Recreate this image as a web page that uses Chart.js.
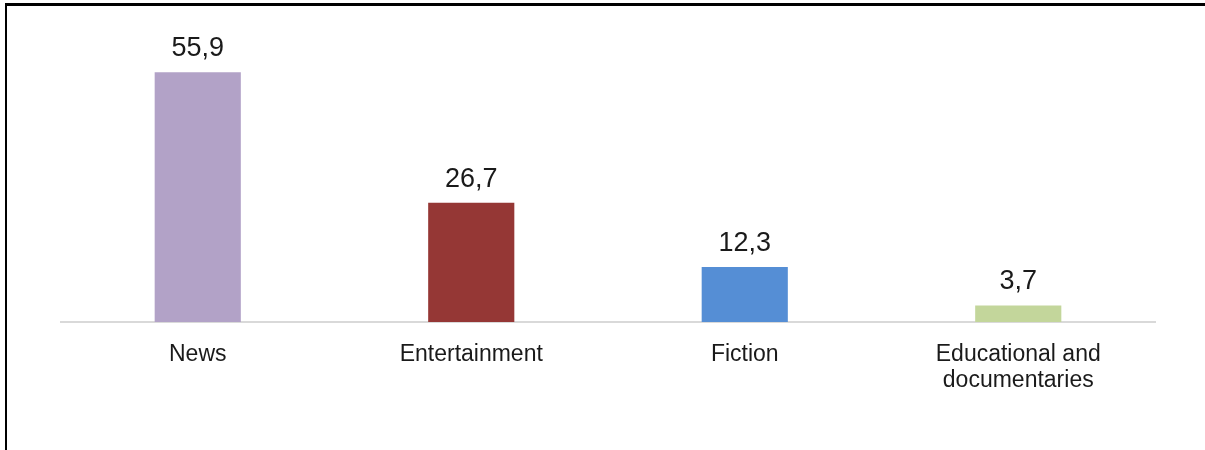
<!DOCTYPE html>
<html>
<head>
<meta charset="utf-8">
<script src="https://cdn.jsdelivr.net/npm/chart.js@4/dist/chart.umd.min.js"></script>
<style>
  html, body { margin: 0; padding: 0; background: #fff; }
  #wrap { position: relative; width: 1205px; height: 450px; overflow: hidden; }
  #frame { position: absolute; left: 5px; top: 3px; width: 1210px; height: 460px;
           border-top: 3px solid #000; border-left: 2px solid #000; box-sizing: border-box; pointer-events: none; }
  canvas { position: absolute; left: 0; top: 0; }
</style>
</head>
<body>
<div id="wrap">
  <canvas id="c" width="1205" height="450"></canvas>
  <div id="frame"></div>
</div>
<script>
const categories = ["News", "Entertainment", "Fiction", ["Educational and", "documentaries"]];
const values = [55.9, 26.7, 12.3, 3.7];
const barColors = ["#b2a2c7", "#953735", "#558ed5", "#c3d69b"];

const valueLabels = {
  id: 'valueLabels',
  afterDatasetsDraw(chart) {
    const ctx = chart.ctx;
    const meta = chart.getDatasetMeta(0);
    ctx.save();
    ctx.font = '27px "Liberation Sans", Arial, sans-serif';
    ctx.fillStyle = '#1a1a1a';
    ctx.textAlign = 'center';
    ctx.textBaseline = 'alphabetic';
    meta.data.forEach((bar, i) => {
      const txt = values[i].toFixed(1).replace('.', ',');
      ctx.fillText(txt, bar.x, bar.y - 16);
    });
    ctx.restore();
  }
};

new Chart(document.getElementById('c'), {
  type: 'bar',
  data: {
    labels: categories,
    datasets: [{
      data: values,
      backgroundColor: barColors,
      barPercentage: 0.315,
      categoryPercentage: 1.0
    }]
  },
  options: {
    responsive: false,
    animation: false,
    devicePixelRatio: 1,
    layout: { padding: { left: 61, right: 50, top: 54, bottom: 0 } },
    plugins: { legend: { display: false }, tooltip: { enabled: false }, title: { display: false } },
    scales: {
      x: {
        grid: { display: false, drawTicks: false },
        border: { display: true, color: '#d9d9d9', width: 2 },
        ticks: {
          color: '#1a1a1a',
          font: { family: '"Liberation Sans", Arial, sans-serif', size: 23, lineHeight: 1.16 },
          padding: 19,
          maxRotation: 0,
          autoSkip: false
        },
        afterFit(scale) { scale.height = 128; }
      },
      y: {
        display: false,
        min: 0,
        max: 60
      }
    }
  },
  plugins: [valueLabels]
});
</script>
</body>
</html>
